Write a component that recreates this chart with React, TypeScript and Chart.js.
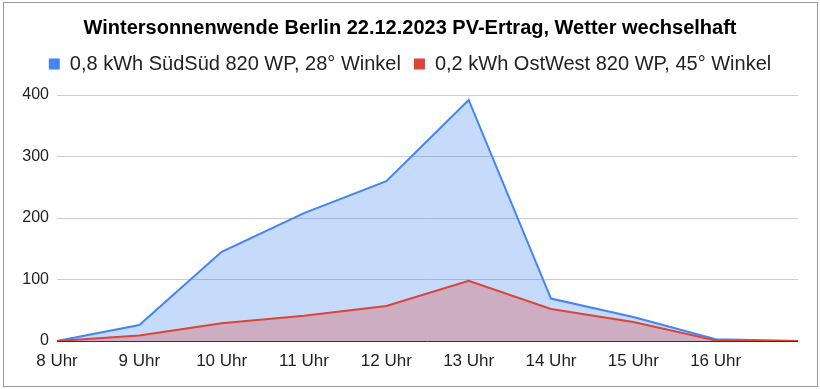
import React, { useEffect, useRef } from "react";
import { Chart, registerables } from "chart.js";

Chart.register(...registerables);

const titleText = "Wintersonnenwende Berlin 22.12.2023 PV-Ertrag, Wetter wechselhaft";
const categories = ["8 Uhr", "9 Uhr", "10 Uhr", "11 Uhr", "12 Uhr", "13 Uhr", "14 Uhr", "15 Uhr", "16 Uhr", ""];
const seriesSuedName = "0,8 kWh SüdSüd 820 WP, 28° Winkel";
const seriesSued = [0, 26, 145, 208, 260, 392, 69, 39, 3, 0];
const seriesOstWestName = "0,2 kWh OstWest 820 WP, 45° Winkel";
const seriesOstWest = [0, 9, 29, 41, 57, 98, 52, 31, 1, 0];
const yTicks = [0, 100, 200, 300, 400];

const FONT = "'Liberation Sans', Arial, sans-serif";

export default function App() {
  const ref = useRef<HTMLCanvasElement | null>(null);
  useEffect(() => {
    if (!ref.current) return;
    const chart = new Chart(ref.current, {
      type: "line",
      data: {
        labels: categories,
        datasets: [
          {
            label: seriesSuedName,
            data: seriesSued,
            borderColor: "#4285f4",
            backgroundColor: "rgba(66,133,244,0.3)",
            fill: "origin",
            borderWidth: 2,
            pointRadius: 0,
            tension: 0,
            order: 1,
          },
          {
            label: seriesOstWestName,
            data: seriesOstWest,
            borderColor: "#db4437",
            backgroundColor: "rgba(219,68,55,0.3)",
            fill: "origin",
            borderWidth: 2,
            pointRadius: 0,
            tension: 0,
            order: 0,
          },
        ],
      },
      options: {
        responsive: false,
        animation: false,
        layout: { padding: { left: 22, right: 22, top: 0, bottom: 0 } },
        plugins: {
          tooltip: { enabled: false },
          title: {
            display: true,
            text: titleText,
            color: "#000",
            font: { family: FONT, size: 20, weight: "bold" },
            padding: { top: 16, bottom: 1 },
          },
          subtitle: {
            display: true,
            text: "",
            weight: 500,
            font: { family: FONT, size: 1, lineHeight: 1 },
            padding: { top: 10, bottom: 0 },
          } as any,
          legend: {
            display: true,
            labels: {
              color: "#222",
              font: { family: FONT, size: 20 },
              boxWidth: 11,
              boxHeight: 11,
              padding: 13,
              generateLabels: (c: any) =>
                c.data.datasets.map((d: any, i: number) => ({
                  text: d.label,
                  fillStyle: d.borderColor,
                  strokeStyle: d.borderColor,
                  lineWidth: 0,
                  hidden: false,
                  datasetIndex: i,
                  fontColor: "#222",
                })),
            },
          },
        },
        scales: {
          x: {
            offset: false,
            grid: { display: false, drawTicks: false },
            border: { display: false },
            ticks: {
              color: "#222",
              font: { family: FONT, size: 17 },
              padding: 10,
              maxRotation: 0,
              autoSkip: false,
            },
            afterFit: (s: any) => {
              s.height = 48;
            },
          },
          y: {
            min: 0,
            max: 400,
            afterBuildTicks: (s: any) => {
              s.ticks = yTicks.map((v) => ({ value: v }));
            },
            grid: {
              color: (ctx: any) => (ctx.tick && ctx.tick.value === 0 ? "#333" : "#ccc"),
              drawTicks: false,
              lineWidth: 1,
            },
            border: { display: false },
            ticks: {
              color: "#222",
              font: { family: FONT, size: 16 },
              padding: 8,
            },
            afterFit: (s: any) => {
              s.width = 35;
            },
          },
        },
      },
    });
    return () => chart.destroy();
  }, []);
  return (
    <div style={{ position: "absolute", left: 0, top: 0, width: 820, height: 389, background: "#fff" }}>
      <canvas ref={ref} width={820} height={389} style={{ position: "absolute", left: 0, top: 0 }} />
      <div
        style={{
          position: "absolute",
          left: 3,
          top: 2,
          width: 813,
          height: 383,
          border: "1px solid #999",
          pointerEvents: "none",
        }}
      />
    </div>
  );
}
